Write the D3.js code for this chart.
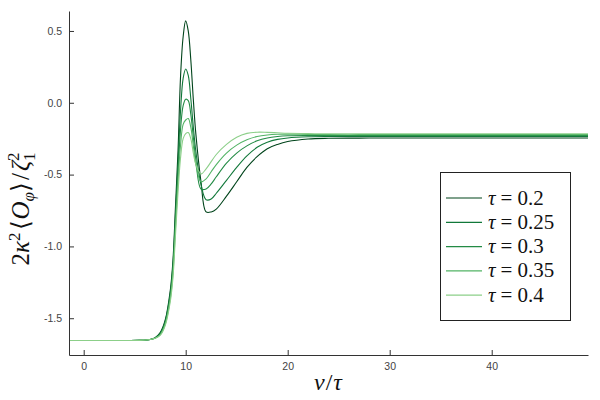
<!DOCTYPE html>
<html>
<head>
<meta charset="utf-8">
<script src="https://cdn.jsdelivr.net/npm/d3@7/dist/d3.min.js"></script>
<style>
  html, body { margin: 0; padding: 0; background: #fff; }
  svg { display: block; }
</style>
</head>
<body>
<svg id="chart" width="600" height="400"></svg>
<script>
// ---------------- data ----------------
const taus = [0.2, 0.25, 0.3, 0.35, 0.4];
const tauLabels = ["0.2", "0.25", "0.3", "0.35", "0.4"];
const colors = ["#00441b", "#11783a", "#238b45", "#52b365", "#8ccf89"];

const xs = [-1.44, 4, 5.5, 6.5, 7, 7.5, 8, 8.5, 8.75, 9, 9.25, 9.5, 9.75, 10, 10.25, 10.5, 10.75, 11, 11.5, 12, 12.5, 13, 14, 15, 16, 17, 18, 19, 20, 22, 24, 27, 30, 35, 40, 49.44];

const tau02  = [-1.655,-1.655,-1.654,-1.648,-1.635,-1.600,-1.51,-1.30,-1.10,-0.72,-0.33,0.19,0.46,0.57,0.50,0.30,0.02,-0.22,-0.55,-0.76,-0.76,-0.74,-0.65,-0.55,-0.45,-0.375,-0.32,-0.29,-0.27,-0.252,-0.247,-0.246,-0.245,-0.245,-0.245,-0.245];
const tau025 = [-1.655,-1.655,-1.654,-1.648,-1.637,-1.605,-1.52,-1.32,-1.13,-0.78,-0.42,-0.05,0.17,0.235,0.19,0.03,-0.17,-0.34,-0.57,-0.675,-0.67,-0.63,-0.54,-0.45,-0.37,-0.31,-0.275,-0.255,-0.245,-0.237,-0.235,-0.235,-0.235,-0.235,-0.235,-0.235];
const tau03  = [-1.655,-1.655,-1.654,-1.648,-1.638,-1.610,-1.53,-1.34,-1.16,-0.82,-0.48,-0.18,-0.02,0.025,0.015,-0.08,-0.24,-0.40,-0.60,-0.60,-0.565,-0.515,-0.42,-0.35,-0.30,-0.265,-0.245,-0.235,-0.23,-0.228,-0.228,-0.228,-0.228,-0.228,-0.228,-0.228];
const tau035 = [-1.655,-1.655,-1.654,-1.648,-1.639,-1.615,-1.54,-1.36,-1.19,-0.87,-0.55,-0.29,-0.15,-0.12,-0.11,-0.17,-0.30,-0.43,-0.55,-0.53,-0.48,-0.43,-0.35,-0.295,-0.258,-0.235,-0.224,-0.219,-0.218,-0.22,-0.222,-0.222,-0.222,-0.222,-0.222,-0.222];
const tau04  = [-1.655,-1.655,-1.654,-1.648,-1.640,-1.620,-1.55,-1.38,-1.22,-0.92,-0.62,-0.38,-0.25,-0.215,-0.207,-0.25,-0.35,-0.43,-0.495,-0.46,-0.41,-0.36,-0.29,-0.24,-0.213,-0.205,-0.206,-0.209,-0.212,-0.215,-0.216,-0.216,-0.216,-0.216,-0.216,-0.216];

const seriesValues = [tau02, tau025, tau03, tau035, tau04];

const xTicks = [0, 10, 20, 30, 40];
const yTicks = [0.5, 0.0, -0.5, -1.0, -1.5];
const yTickLabels = ["0.5", "0.0", "-0.5", "-1.0", "-1.5"];

// ---------------- layout ----------------
const svg = d3.select("#chart");
const mLeft = 69, mRight = 588, mTop = 11, mBottom = 355;

const x = d3.scaleLinear().domain([-1.44, 49.44]).range([mLeft, mRight]);
const y = d3.scaleLinear().domain([-1.756, 0.639]).range([mBottom, mTop]);

// lines
const line = d3.line()
  .x((d) => x(d[0]))
  .y((d) => y(d[1]))
  .curve(d3.curveCatmullRom.alpha(0.5));

const plot = svg.append("g");
seriesValues.forEach((vals, i) => {
  const pts = xs.map((xv, j) => [xv, vals[j]]);
  plot.append("path")
    .datum(pts)
    .attr("fill", "none")
    .attr("stroke", colors[i])
    .attr("stroke-width", 1.1)
    .attr("d", line);
});

// axes
const axisColor = "#333";
const tickFont = "Liberation Sans, Arial, sans-serif";

const xAxis = d3.axisBottom(x).tickValues(xTicks).tickFormat(d3.format("d"))
  .tickSize(-5).tickSizeOuter(0).tickPadding(8);
const gx = svg.append("g").attr("transform", `translate(0,${mBottom})`).call(xAxis);

const yAxis = d3.axisLeft(y).tickValues(yTicks).tickFormat((d, i) => yTickLabels[i])
  .tickSize(-5).tickSizeOuter(0).tickPadding(7);
const gy = svg.append("g").attr("transform", `translate(${mLeft},0)`).call(yAxis);

[gx, gy].forEach((g) => {
  g.select(".domain").attr("stroke", axisColor).attr("stroke-width", 1);
  g.selectAll(".tick line").attr("stroke", axisColor).attr("stroke-width", 1);
  g.selectAll(".tick text").attr("fill", "#444")
    .style("font-family", tickFont).style("font-size", "10.5px");
});

// axis titles
const serif = "Liberation Serif, 'Times New Roman', serif";
const xl = svg.append("text")
  .attr("x", 328).attr("y", 390)
  .attr("text-anchor", "middle")
  .style("font-family", serif).style("font-size", "24px").attr("fill", "#111");
xl.append("tspan").attr("font-style", "italic").text("v");
xl.append("tspan").attr("dx", 1).text("/");
xl.append("tspan").attr("dx", 1).attr("font-style", "italic").text("τ");

const yl = svg.append("text")
  .attr("transform", "translate(29,209) rotate(-90)")
  .attr("text-anchor", "middle")
  .style("font-family", serif).style("font-size", "25px").attr("fill", "#111");
yl.append("tspan").text("2");
yl.append("tspan").attr("font-style", "italic").text("κ");
yl.append("tspan").attr("dy", -9).style("font-size", "17px").text("2");
yl.append("tspan").attr("dy", 9).attr("dx", 3).text("⟨");
yl.append("tspan").attr("font-style", "italic").text("O");
yl.append("tspan").attr("dy", 5).style("font-size", "17px").attr("font-style", "italic").text("φ");
yl.append("tspan").attr("dy", -5).text("⟩");
yl.append("tspan").attr("dx", 2).text("/");
yl.append("tspan").attr("dx", 2).attr("font-style", "italic").text("ζ");
yl.append("tspan").attr("dy", 6).style("font-size", "17px").text("1");
yl.append("tspan").attr("dy", -16).attr("dx", -8.5).style("font-size", "17px").text("2");

// legend
const lg = svg.append("g");
lg.append("rect")
  .attr("x", 440.5).attr("y", 172.5).attr("width", 130).attr("height", 148)
  .attr("fill", "#fff").attr("stroke", "#222").attr("stroke-width", 1);
taus.forEach((t, i) => {
  const ry = 198 + i * 24.3;
  lg.append("line")
    .attr("x1", 446).attr("x2", 482).attr("y1", ry).attr("y2", ry)
    .attr("stroke", colors[i]).attr("stroke-width", 1.2);
  const tx = lg.append("text")
    .attr("x", 488).attr("y", ry + 6.5)
    .style("font-family", serif).style("font-size", "21px").attr("fill", "#111");
  tx.append("tspan").attr("font-style", "italic").text("τ");
  tx.append("tspan").attr("dx", 5).text("=");
  tx.append("tspan").attr("dx", 5).text(tauLabels[i]);
});
</script>
</body>
</html>
